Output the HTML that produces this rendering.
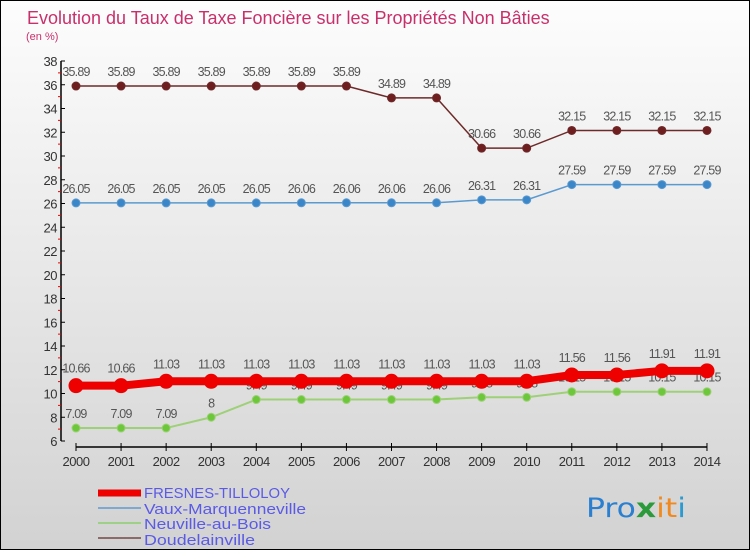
<!DOCTYPE html>
<html><head><meta charset="utf-8"><style>
body{margin:0;}
#c{position:relative;width:748px;height:548px;border:1px solid #000;background:linear-gradient(#fdfdfd,#d2d2d2);overflow:hidden;font-family:"Liberation Sans",sans-serif;}
</style></head><body>
<div id="c">
<svg id="s" width="748" height="548" style="position:absolute;left:0;top:0">
<text x="26" y="23" font-size="18" fill="#c8306a" font-family="Liberation Sans, sans-serif">Evolution du Taux de Taxe Foncière sur les Propriétés Non Bâties</text>
<text x="25" y="39" font-size="11" fill="#c8306a" font-family="Liberation Sans, sans-serif">(en %)</text>
<g id="axes"></g><g id="series"></g>
<g>
<line x1="97" y1="492" x2="140" y2="492" stroke="#ee0000" stroke-width="7"/>
<line x1="97" y1="507" x2="140" y2="507" stroke="#7fa8d0" stroke-width="2"/>
<line x1="97" y1="522" x2="140" y2="522" stroke="#9ed088" stroke-width="2"/>
<line x1="97" y1="537" x2="140" y2="537" stroke="#8c6a6a" stroke-width="2"/>
<g font-size="15" fill="#5a5ae6" font-family="Liberation Sans, sans-serif">
<text x="143" y="497" textLength="146" lengthAdjust="spacingAndGlyphs">FRESNES-TILLOLOY</text>
<text x="143" y="513" textLength="162" lengthAdjust="spacingAndGlyphs">Vaux-Marquenneville</text>
<text x="143" y="528" textLength="127" lengthAdjust="spacingAndGlyphs">Neuville-au-Bois</text>
<text x="143" y="544" textLength="111" lengthAdjust="spacingAndGlyphs">Doudelainville</text>
</g></g>
<g font-size="27" font-family="DejaVu Sans, sans-serif">
<text x="585" y="516" textLength="100" lengthAdjust="spacingAndGlyphs"><tspan fill="#2a7fd0">Pro</tspan><tspan fill="#2a9a3a" font-weight="bold">x</tspan><tspan fill="#f08a20">it</tspan><tspan fill="#2a9ad0">i</tspan></text>
</g>
</svg>
</div>
<script>
const years=[2000,2001,2002,2003,2004,2005,2006,2007,2008,2009,2010,2011,2012,2013,2014];
const fresnes=[10.66,10.66,11.03,11.03,11.03,11.03,11.03,11.03,11.03,11.03,11.03,11.56,11.56,11.91,11.91];
const vaux=[26.05,26.05,26.05,26.05,26.05,26.06,26.06,26.06,26.06,26.31,26.31,27.59,27.59,27.59,27.59];
const neuville=[7.09,7.09,7.09,8,9.49,9.49,9.49,9.49,9.49,9.68,9.68,10.15,10.15,10.15,10.15];
const doud=[35.89,35.89,35.89,35.89,35.89,35.89,35.89,34.89,34.89,30.66,30.66,32.15,32.15,32.15,32.15];
const yTicks=[6,8,10,12,14,16,18,20,22,24,26,28,30,32,34,36,38];
const NS="http://www.w3.org/2000/svg";
const X=i=>75+i*45.07, Y=v=>440-(v-6)*11.875;
function mk(p,t,a){const e=document.createElementNS(NS,t);for(const k in a)e.setAttribute(k,a[k]);p.appendChild(e);return e;}
const ax=document.getElementById('axes');
let e=mk(ax,'line',{x1:60,y1:Y(38),x2:60,y2:Y(6),stroke:'#000','stroke-width':1.5});


e=mk(ax,'line',{x1:X(0),y1:446,x2:X(years.length-1),y2:446,stroke:'#000','stroke-width':1.5});


yTicks.forEach(v=>{
 mk(ax,'line',{x1:60,y1:Y(v),x2:64,y2:Y(v),stroke:'#000'});
 if(v<38)mk(ax,'line',{x1:57,y1:Y(v+1),x2:60,y2:Y(v+1),stroke:'#e00'});
 const t=mk(ax,'text',{x:56,y:Y(v)+5,'text-anchor':'end','font-size':13,fill:'#333','letter-spacing':'-0.5'});
 t.textContent=v;
 
 
});
years.forEach((yr,i)=>{
 mk(ax,'line',{x1:X(i),y1:442,x2:X(i),y2:450,stroke:'#000'});
 const t=mk(ax,'text',{x:X(i),y:465,'text-anchor':'middle','font-size':13,fill:'#333','letter-spacing':'-0.5'});
 t.textContent=yr;
 
 
});
const sg=document.getElementById('series');
function series(arr,name,color,sw,r,dot){
 const g=mk(sg,'g',{});
 
 
 mk(g,'polyline',{points:arr.map((v,i)=>X(i)+','+Y(v)).join(' '),fill:'none',stroke:color,'stroke-width':sw});
 arr.forEach((v,i)=>{
  const c=mk(g,'circle',{cx:X(i),cy:Y(v),r:r,fill:dot,stroke:color,'stroke-width':1});
  
  
  const t=mk(g,'text',{x:X(i),y:Y(v)-(r+6),'text-anchor':'middle','font-size':12.5,fill:'#555','letter-spacing':'-0.8'});
  t.textContent=v;
  
  
 });
}
series(doud,'doudelainville','#6e2a2a',1.5,4,'#6e1e1e');
series(vaux,'vaux','#5a9ad0',1.5,4,'#3a86c8');
series(neuville,'neuville','#9ed078',2,4,'#6cc83a');
series(fresnes,'fresnes','#ee0000',8,7,'#ee0000');
</script>
</body></html>
